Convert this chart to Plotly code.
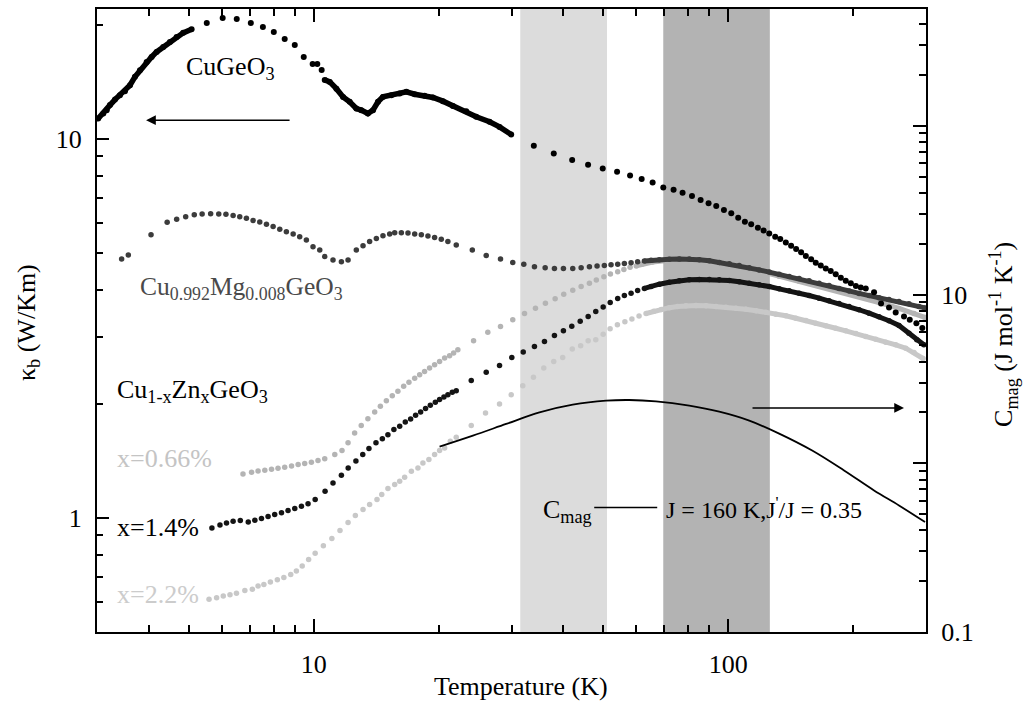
import numpy as np
import plotly.graph_objects as go

# ---------------- data ----------------
# CuGeO3 thermal conductivity kappa_b (W/Km) vs temperature (K)
T_cu = [3.02, 3.107, 3.166, 3.224, 3.315, 3.408, 3.504, 3.603, 3.704, 3.808, 3.953, 4.063,
        4.178, 4.334, 4.498, 4.669, 4.843, 5.074,
        5.52, 6.03, 6.52, 7.05, 7.54, 8.01, 8.51, 9.00, 9.46, 9.94, 10.2, 10.45,
        10.63, 10.93, 11.34, 11.77, 12.21, 12.67, 13.02, 13.51, 13.90, 14.29, 14.69, 15.39,
        16.12, 16.73, 17.52, 18.51, 19.39, 20.49, 21.66, 23.33, 24.66, 26.55, 28.07, 29.95,
        33.96, 37.94, 42.02, 45.91, 49.80, 53.93, 57.97, 61.82, 65.70,
        69.71, 73.82, 77.60, 81.76, 85.77, 89.65, 93.56, 97.64, 101.7, 105.7,
        109.7, 113.6, 117.9, 121.7, 125.6, 129.8, 133.5, 137.7, 141.8, 145.8,
        149.9, 153.9, 158.5, 162.6, 167.2, 171.9, 176.7, 181.7, 186.9, 192.1,
        197.6, 203.2, 208.8, 214.7, 224.8, 233.7, 244.3, 253.5, 265.5, 274.1,
        284.4, 293.9]
kappa_cu = [11.31, 11.66, 11.90, 12.27, 12.69, 13.03, 13.35, 13.85, 14.57, 15.16, 15.95, 16.44,
            16.95, 17.47, 18.01, 18.57, 19.03, 19.45,
            20.21, 20.83, 20.70, 20.21, 19.72, 19.13, 18.34, 17.69, 16.44, 15.75, 15.75, 15.19,
            14.30, 14.13, 13.56, 12.90, 12.52, 12.02, 11.90, 11.66, 11.90, 12.52, 12.90, 13.03,
            13.16, 13.30, 13.11, 12.98, 12.85, 12.57, 12.21, 11.83, 11.43, 11.09, 10.75, 10.26,
            9.58, 9.15, 8.79, 8.54, 8.35, 8.18, 8.00, 7.83, 7.67,
            7.44, 7.34, 7.21, 7.07, 6.90, 6.76, 6.65, 6.49, 6.36, 6.19,
            6.04, 5.95, 5.83, 5.73, 5.63, 5.52, 5.44, 5.33, 5.22, 5.12,
            5.02, 4.91, 4.81, 4.71, 4.63, 4.55, 4.48, 4.39, 4.30, 4.22,
            4.16, 4.09, 4.05, 4.03, 3.94, 3.68, 3.59, 3.48, 3.40, 3.33,
            3.26, 3.17]

# Cu0.992Mg0.008GeO3
T_mg = [3.44, 3.57, 4.05, 4.43, 4.67, 4.91, 5.15, 5.38, 5.64, 5.90,
        6.14, 6.39, 6.63, 6.88, 7.14, 7.41, 7.69, 7.98, 8.28, 8.59,
        8.92, 9.25, 9.60, 9.96, 10.34, 10.63, 11.13, 11.66, 12.10, 12.67,
        13.15, 13.64, 14.16, 14.69, 15.25, 15.68, 16.27, 16.88, 17.52, 18.18,
        18.86, 19.57, 20.31, 21.07, 22.07, 24.13, 26.07, 28.22, 30.21, 32.12,
        34.08, 36.17, 38.08, 40.03, 42.16, 44.17, 46.25, 48.26, 50.25, 52.15,
        54.12, 56.16, 58.29, 60.46, 62.76, 65.13, 68.19, 72.08, 76.19, 80.54,
        85.13, 90.0, 95.13, 100.6, 106.3, 112.4, 118.7, 125.6, 132.7, 140.3,
        148.3, 156.7, 165.7, 175.1, 185.1, 195.7, 206.9, 218.7, 231.1, 244.3,
        258.2, 272.9, 288.4, 298.0]
kappa_mg = [4.82, 4.94, 5.58, 6.02, 6.13, 6.23, 6.30, 6.33, 6.34, 6.33,
            6.32, 6.28, 6.23, 6.17, 6.09, 6.03, 5.95, 5.87, 5.77, 5.69,
            5.61, 5.52, 5.41, 5.19, 5.09, 4.89, 4.79, 4.74, 4.79, 5.09,
            5.22, 5.36, 5.46, 5.55, 5.61, 5.65, 5.65, 5.64, 5.61, 5.58,
            5.54, 5.49, 5.43, 5.36, 5.25, 5.09, 4.92, 4.82, 4.72, 4.67,
            4.60, 4.57, 4.55, 4.55, 4.55, 4.57, 4.60, 4.62, 4.63, 4.65,
            4.67, 4.69, 4.71, 4.74, 4.76, 4.78, 4.80, 4.81, 4.82, 4.82,
            4.80, 4.77, 4.72, 4.68, 4.63, 4.57, 4.51, 4.45, 4.39, 4.33,
            4.28, 4.22, 4.16, 4.10, 4.03, 3.97, 3.91, 3.86, 3.81, 3.77,
            3.72, 3.67, 3.61, 3.58]

# Cu1-xZnxGeO3, x = 0.66 %
T_zn066 = [6.75, 7.08, 7.34, 7.62, 7.91, 8.20, 8.51, 8.84, 9.17, 9.51,
           9.87, 10.24, 10.63, 11.24, 11.70, 12.10, 12.55, 13.02, 13.51, 14.03,
           14.48, 14.97, 15.47, 15.96, 16.48, 16.97, 17.52, 18.01, 18.51, 19.03,
           19.57, 20.12, 20.69, 21.27, 21.75, 22.27, 24.30, 26.30, 28.22, 30.21,
           32.25, 34.27, 36.22, 38.23, 40.10, 42.16, 44.17, 46.25, 48.06, 50.12,
           51.97, 54.12, 56.0, 57.97, 60.0, 61.94, 65.70, 70.12, 76.19, 85.13,
           95.13, 106.3, 118.7, 132.7, 148.3, 165.7, 185.1, 206.9, 231.1, 258.2,
           280.7, 298.0]
kappa_zn066 = [1.306, 1.320, 1.330, 1.336, 1.344, 1.352, 1.360, 1.371, 1.382, 1.391,
               1.402, 1.416, 1.433, 1.469, 1.505, 1.578, 1.674, 1.752, 1.827, 1.902,
               1.969, 2.038, 2.101, 2.157, 2.223, 2.278, 2.337, 2.386, 2.434, 2.484,
               2.535, 2.587, 2.639, 2.678, 2.721, 2.777, 2.932, 3.090, 3.198, 3.331,
               3.461, 3.574, 3.684, 3.784, 3.891, 3.987, 4.077, 4.16, 4.24, 4.325,
               4.40, 4.46, 4.52, 4.58, 4.62, 4.67, 4.73, 4.77, 4.79, 4.77,
               4.70, 4.60, 4.48, 4.34, 4.21, 4.09, 3.96, 3.84, 3.70, 3.57,
               3.46, 3.38]

# x = 1.4 %
T_zn14 = [5.68, 5.94, 6.16, 6.39, 6.65, 6.95, 7.21, 7.48, 7.76, 8.05, 8.36, 8.67, 9.00, 9.34, 9.69,
          10.08, 10.65, 11.13, 11.66, 12.11, 12.64, 13.13, 13.59, 14.13, 14.64, 15.10, 15.61,
          16.12, 16.63, 17.13, 17.61, 18.11, 18.61, 19.11, 19.65, 20.12, 20.61, 21.07, 21.59, 22.07,
          23.99, 26.07, 28.07, 30.05, 32.02, 34.08, 36.03, 38.08, 40.03, 41.93, 43.94, 45.93,
          47.91, 49.92, 51.91, 54.12, 56.16, 58.29, 60.46, 62.76, 65.13, 68.19,
          72.08, 76.19, 80.54, 85.13, 90.0, 95.13, 100.6, 106.3, 112.4, 118.7, 125.6, 132.7,
          140.3, 148.3, 156.7, 165.7, 175.1, 185.1, 195.7, 206.9, 218.7, 231.1, 244.3, 258.2,
          272.9, 285.0, 296.4]
kappa_zn14 = [0.941, 0.958, 0.970, 0.980, 0.984, 0.976, 0.986, 0.996, 1.009, 1.021, 1.031, 1.046,
              1.059, 1.074, 1.090,
              1.118, 1.176, 1.236, 1.295, 1.354, 1.413, 1.469, 1.524, 1.578, 1.618, 1.658, 1.710,
              1.744, 1.790, 1.823, 1.865, 1.902, 1.942, 1.981, 2.017, 2.051, 2.084, 2.114, 2.144, 2.166,
              2.304, 2.423, 2.523, 2.651, 2.737, 2.833, 2.921, 3.029, 3.116, 3.205, 3.303, 3.400,
              3.505, 3.598, 3.702, 3.788, 3.858, 3.914, 3.981, 4.03, 4.08, 4.135,
              4.185, 4.223, 4.246, 4.254, 4.254, 4.246, 4.228, 4.195, 4.159, 4.119, 4.077, 4.02,
              3.973, 3.915, 3.861, 3.798, 3.739, 3.678, 3.611, 3.540, 3.467, 3.393, 3.312, 3.218,
              3.071, 2.951, 2.863]

# x = 2.2 %
T_zn22 = [5.59, 5.83, 6.05, 6.28, 6.51, 6.82, 7.11, 7.34, 7.58, 7.86, 8.17, 8.47, 8.80, 9.08, 9.38, 9.72,
          10.08, 10.55, 11.06, 11.57, 12.10, 12.60, 13.15, 13.64, 14.21, 14.59, 15.10, 15.68,
          16.12, 16.57, 17.20, 17.84, 18.34, 18.96, 19.57, 20.12, 20.69, 21.35, 22.07,
          23.99, 25.97, 28.07, 29.95, 31.94, 33.89, 35.89, 37.93, 39.87, 42.04, 44.05, 45.93,
          47.91, 49.92, 51.88, 54.02, 56.32, 58.56, 60.93, 63.35, 66.14, 68.96,
          72.08, 75.51, 79.09, 83.61, 88.39, 93.41, 98.74, 104.4, 110.3, 116.6, 123.3, 130.3,
          137.7, 145.6, 153.9, 162.6, 171.9, 181.7, 192.1, 203.2, 214.7, 227.0, 239.9, 253.6,
          268.1, 280.7, 295.1]
kappa_zn22 = [0.610, 0.616, 0.622, 0.627, 0.633, 0.643, 0.648, 0.661, 0.667, 0.677, 0.687, 0.696,
              0.709, 0.724, 0.747, 0.777,
              0.807, 0.844, 0.882, 0.926, 0.972, 1.015, 1.052, 1.085, 1.118, 1.152, 1.195, 1.224,
              1.249, 1.280, 1.327, 1.354, 1.396, 1.425, 1.469, 1.505, 1.529, 1.592, 1.631,
              1.754, 1.890, 1.997, 2.113, 2.233, 2.348, 2.484, 2.587, 2.651, 2.791, 2.845, 2.932,
              2.950, 3.053, 3.155, 3.231, 3.290, 3.346, 3.407, 3.460, 3.509, 3.546,
              3.585, 3.611, 3.629, 3.633, 3.627, 3.611, 3.596, 3.574, 3.552, 3.518, 3.488, 3.446,
              3.413, 3.363, 3.317, 3.263, 3.211, 3.164, 3.114, 3.064, 3.008, 2.959, 2.906, 2.861,
              2.803, 2.731, 2.633]

# magnetic specific heat (J mol^-1 K^-1), J = 160 K, J'/J = 0.35
T_cmag = [20.12, 24.21, 29.13, 35.04, 42.16, 50.74, 57.73, 66.94, 80.54, 95.13, 112.4,
          132.7, 159.4, 190.3, 224.8, 258.2, 298.4]
c_mag = [1.255, 1.458, 1.710, 2.001, 2.223, 2.348, 2.370, 2.325, 2.193, 2.020, 1.788,
         1.498, 1.189, 0.906, 0.690, 0.562, 0.448]

# shaded temperature windows (K)
band_light = [31.5, 51.0]
band_dark = [69.7, 126.0]

# tick values
x_major = [10, 100]
x_minor = [4, 5, 6, 7, 8, 9, 20, 30, 40, 50, 60, 70, 80, 90, 200]
y_major = [1, 10]
y_minor = [0.6, 0.7, 0.8, 0.9, 2, 3, 4, 5, 6, 7, 8, 9, 20]
y2_major = [0.1, 1, 10, 100]
y2_labels = ["0.1", "", "10", ""]
y2_minor = [0.2, 0.3, 0.4, 0.5, 0.6, 0.7, 0.8, 0.9, 2, 3, 4, 5, 6, 7, 8, 9,
            20, 30, 40, 50, 60, 70, 80, 90, 200, 300, 400]

FONT = "Liberation Serif"
FS = 26

fig = go.Figure()


def add_series(T, k, color, size, dense):
    """Scatter dots; temperature windows listed in `dense` are measured so
    finely that the dots merge into a continuous band."""
    T = np.asarray(T, dtype=float)
    k = np.asarray(k, dtype=float)
    for lo, hi in dense:
        m = (T >= lo) & (T <= hi)
        fig.add_trace(go.Scatter(x=T[m], y=k[m], mode="lines",
                                 line=dict(color=color, width=size - 0.5),
                                 hoverinfo="skip", showlegend=False))
    fig.add_trace(go.Scatter(x=T, y=k, mode="markers",
                             marker=dict(color=color, size=size, line=dict(width=0)),
                             showlegend=False))


add_series(T_zn066, kappa_zn066, "#b4b4b4", 5.5, [(60, 300)])
add_series(T_zn22, kappa_zn22, "#c8c8c8", 5.5, [(62, 300)])
add_series(T_mg, kappa_mg, "#3c3c3c", 5.5, [(62, 300)])
add_series(T_zn14, kappa_zn14, "#141414", 5.5, [(62, 300)])
add_series(T_cu, kappa_cu, "#000000", 6, [(3.0, 5.1), (10.6, 30.0)])

fig.add_trace(go.Scatter(x=T_cmag, y=c_mag, yaxis="y2", mode="lines",
                         line=dict(color="black", width=1.8, shape="spline"),
                         showlegend=False))

# shaded windows
for (lo, hi), col in [(band_light, "#dcdcdc"), (band_dark, "#b3b3b3")]:
    fig.add_shape(type="rect", xref="x", yref="paper", x0=lo, x1=hi, y0=0, y1=1,
                  fillcolor=col, line=dict(width=0), layer="below")

# key line between the C_mag label and the model parameters
fig.add_shape(type="line", xref="x", yref="y2", x0=47.5, x1=67.4, y0=0.547, y1=0.547,
              line=dict(color="black", width=1.5))

lg = np.log10


def label(text, T, k, color="black", size=FS):
    fig.add_annotation(x=lg(T), y=lg(k), xref="x", yref="y", text=text, showarrow=False,
                       xanchor="left", yanchor="middle",
                       font=dict(family=FONT, size=size, color=color))


label("CuGeO<sub>3</sub>", 4.86, 15.4)
label("Cu<sub>0.992</sub>Mg<sub>0.008</sub>GeO<sub>3</sub>", 3.77, 4.05, color="#4a4a4a", size=25.5)
label("Cu<sub>1-x</sub>Zn<sub>x</sub>GeO<sub>3</sub>", 3.32, 2.16)
label("x=0.66%", 3.32, 1.435, color="#c4c4c4")
label("x=1.4%", 3.32, 0.945)
label("x=2.2%", 3.32, 0.628, color="#cccccc")
label("C<sub>mag</sub>", 35.4, 1.04)
label("J = 160 K,J<sup>'</sup>/J = 0.35", 70.1, 1.06, size=24)

# arrows pointing to the axis each group belongs to
fig.add_annotation(x=lg(3.94), y=lg(11.2), xref="x", yref="y", ax=145, ay=0,
                   showarrow=True, arrowhead=2, arrowsize=1.3, arrowwidth=1.5,
                   arrowcolor="black", text="")
fig.add_annotation(x=lg(265.5), y=lg(1.95), xref="x", yref="y", ax=-153, ay=0,
                   showarrow=True, arrowhead=2, arrowsize=1.3, arrowwidth=1.5,
                   arrowcolor="black", text="")

# axis titles
fig.add_annotation(xref="paper", yref="paper", x=0.5115, y=-0.088, text="Temperature (K)",
                   showarrow=False, xanchor="center", yanchor="middle",
                   font=dict(family=FONT, size=FS, color="black"))
fig.add_annotation(xref="paper", yref="paper", x=-0.0832, y=0.496, text="κ<sub>b</sub> (W/Km)",
                   textangle=-90, showarrow=False, xanchor="center", yanchor="middle",
                   font=dict(family=FONT, size=FS, color="black"))
fig.add_annotation(xref="paper", yref="paper", x=1.093, y=0.477,
                   text="C<sub>mag</sub> (J mol<sup>-1</sup> K<sup>-1</sup>)",
                   textangle=-90, showarrow=False, xanchor="center", yanchor="middle",
                   font=dict(family=FONT, size=FS, color="black"))

tickfont = dict(family=FONT, size=FS, color="black")
fig.update_layout(
    width=1034, height=704, autosize=False,
    margin=dict(l=97, r=108, t=7, b=72),
    paper_bgcolor="white", plot_bgcolor="white",
    showlegend=False,
    xaxis=dict(type="log", range=[lg(3), lg(300)], showgrid=False, zeroline=False,
               showline=True, linewidth=2, linecolor="black", mirror="ticks",
               tickmode="array", tickvals=x_major, ticktext=["10", "100"],
               ticks="inside", ticklen=13, tickwidth=2, tickcolor="black",
               tickfont=tickfont, ticklabelstandoff=8,
               minor=dict(tickmode="array", tickvals=x_minor, ticks="inside",
                          ticklen=7, tickwidth=2, tickcolor="black", showgrid=False)),
    yaxis=dict(type="log", range=[lg(0.5), 1.3424], showgrid=False, zeroline=False,
               showline=True, linewidth=2, linecolor="black", mirror=False,
               tickmode="array", tickvals=y_major, ticktext=["1", "10"],
               ticks="inside", ticklen=12, tickwidth=2, tickcolor="black",
               tickfont=tickfont, ticklabelstandoff=8,
               minor=dict(tickmode="array", tickvals=y_minor, ticks="inside",
                          ticklen=6, tickwidth=2, tickcolor="black", showgrid=False)),
    yaxis2=dict(type="log", range=[-1, 2.692], overlaying="y", side="right",
                showgrid=False, zeroline=False,
                showline=True, linewidth=2, linecolor="black",
                tickmode="array", tickvals=y2_major, ticktext=y2_labels,
                ticks="inside", ticklen=13, tickwidth=2, tickcolor="black",
                tickfont=tickfont, ticklabelstandoff=8,
                minor=dict(tickmode="array", tickvals=y2_minor, ticks="inside",
                           ticklen=7, tickwidth=2, tickcolor="black", showgrid=False)),
)

fig.write_html("out.html")
